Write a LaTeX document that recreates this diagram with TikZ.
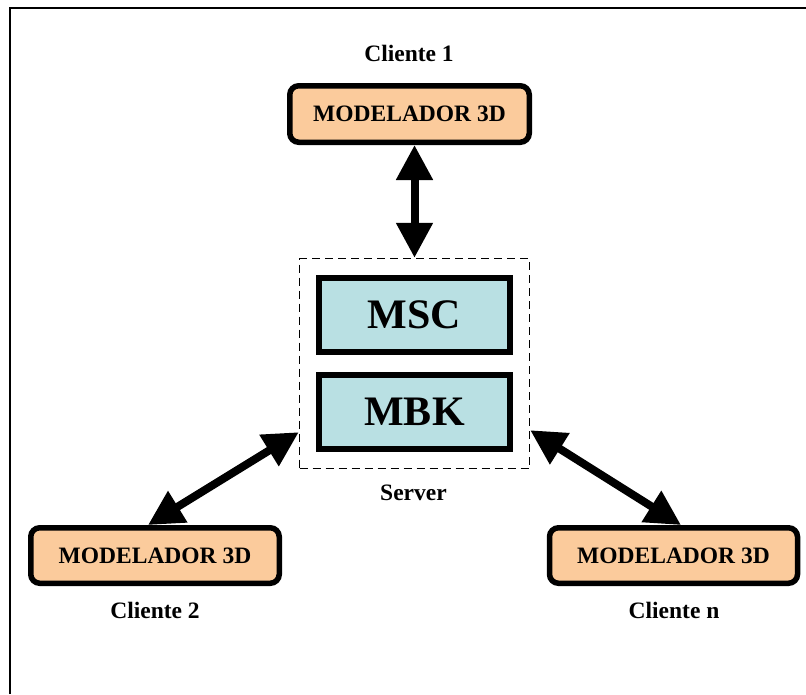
\documentclass[tikz,border=0pt]{standalone}
\usepackage{fontspec}
\setmainfont{Liberation Serif}
\usetikzlibrary{arrows.meta}
\definecolor{peach}{HTML}{FBCB9C}
\definecolor{paleblue}{HTML}{B9E0E3}
\begin{document}
\begin{tikzpicture}[x=1pt,y=-1pt,
  modeler/.style={draw, line width=5.5pt, rounded corners=9pt, fill=peach,
    inner sep=0pt, font=\fontsize{23.5}{28}\selectfont\bfseries},
  module/.style={draw, line width=5.7pt, fill=paleblue, inner sep=0pt,
    minimum width=191pt, minimum height=74pt,
    font=\fontsize{42}{48}\selectfont\bfseries},
  caption/.style={inner sep=0pt, font=\fontsize{23.5}{28}\selectfont\bfseries},
  link/.style={line width=8pt,
    {Triangle[length=35pt,width=35pt]}-{Triangle[length=35pt,width=35pt]}}
]
\useasboundingbox (0,0) rectangle (806,694);
% page frame
\draw[line width=2pt] (10,694) -- (10,7.5) -- (806,7.5);

% server group
\node[draw, dashed, dash pattern=on 8pt off 5pt, line width=1.4pt,
  minimum width=230pt, minimum height=210pt, inner sep=0pt] (server) at (414.5,363.5) {};
\node[module] (msc) at (414.5,315) {MSC};
\node[module] (mbk) at (414.5,412) {MBK};
\node[caption] (srvlbl) at (413.5,492.5) {Server};

% clients
\node[modeler, minimum width=239.5pt, minimum height=56.5pt] (c1) at (409.5,114) {MODELADOR 3D};
\node[modeler, minimum width=248.5pt, minimum height=55.5pt] (c2) at (155,555.5) {MODELADOR 3D};
\node[modeler, minimum width=248pt, minimum height=55.5pt] (cn) at (673.5,555.5) {MODELADOR 3D};
\node[caption] (c1lbl) at (409,53) {Cliente 1};
\node[caption] (c2lbl) at (155,610) {Cliente 2};
\node[caption] (cnlbl) at (674,610) {Cliente n};

% connections
\draw[link] (c1.south -| server.north) -- (server.north);
\draw[link] ([xshift=-7pt]c2.north) -- ([yshift=37pt]server.south west);
\draw[link] ([yshift=39pt]server.south east) -- ([xshift=7.5pt]cn.north);
\end{tikzpicture}
\end{document}
